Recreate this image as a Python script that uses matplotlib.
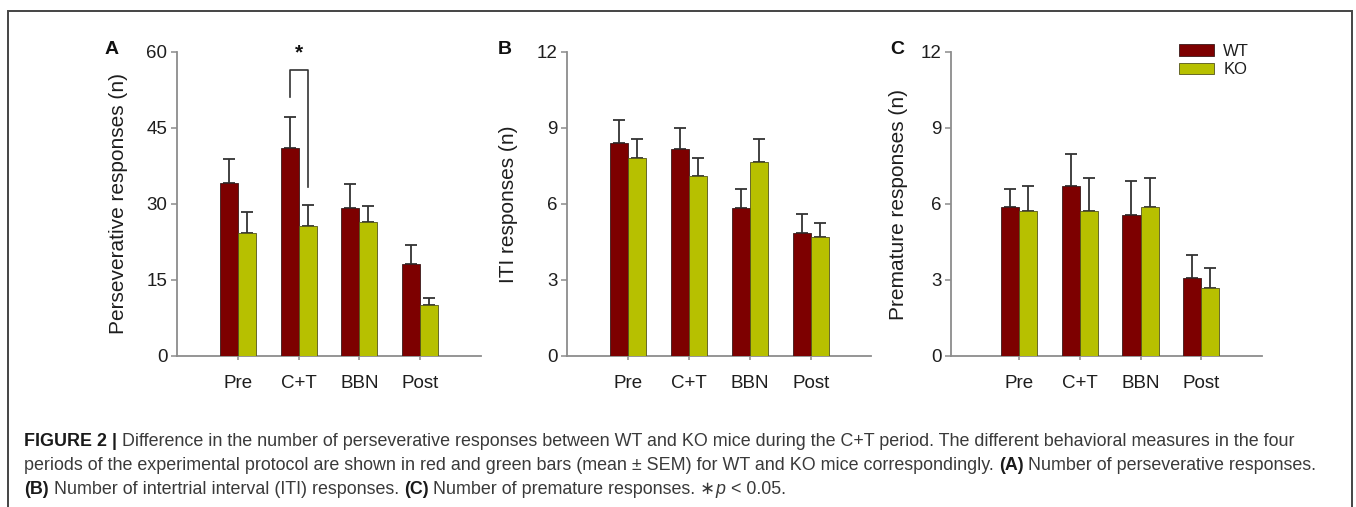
import matplotlib
matplotlib.use("Agg")
import matplotlib.pyplot as plt
from matplotlib.patches import Patch, Rectangle
import numpy as np

plt.rcParams['font.family'] = ['Liberation Sans', 'DejaVu Sans']

categories = ["Pre", "C+T", "BBN", "Post"]
groups = ["WT", "KO"]

# Panel A: perseverative responses
a_wt = [34.1, 41.0, 29.2, 18.1]
a_wt_sem = [4.7, 6.2, 4.7, 3.9]
a_ko = [24.3, 25.7, 26.4, 10.1]
a_ko_sem = [4.2, 4.1, 3.3, 1.4]

# Panel B: ITI responses
b_wt = [8.42, 8.16, 5.86, 4.84]
b_wt_sem = [0.90, 0.83, 0.73, 0.77]
b_ko = [7.83, 7.12, 7.66, 4.68]
b_ko_sem = [0.72, 0.71, 0.91, 0.56]

# Panel C: premature responses
c_wt = [5.87, 6.71, 5.57, 3.09]
c_wt_sem = [0.72, 1.26, 1.34, 0.88]
c_ko = [5.72, 5.72, 5.87, 2.67]
c_ko_sem = [0.98, 1.32, 1.17, 0.82]

panels = [
    ("A", "Perseverative responses (n)", a_wt, a_wt_sem, a_ko, a_ko_sem, [0, 15, 30, 45, 60]),
    ("B", "ITI responses (n)", b_wt, b_wt_sem, b_ko, b_ko_sem, [0, 3, 6, 9, 12]),
    ("C", "Premature responses (n)", c_wt, c_wt_sem, c_ko, c_ko_sem, [0, 3, 6, 9, 12]),
]

W, H = 1356, 507
fig = plt.figure(figsize=(W / 100, H / 100), dpi=100)

def fx(px):
    return px / W

def fy(py):
    return 1 - py / H

ax_px = [(177, 481, (-1.01, 4.01), -0.194, 112),
         (567, 871, (-1.00, 3.98), -0.194, 505),
         (951, 1262, (-1.12, 4.00), -0.170, 897)]
top_px, bot_px = 52, 356

WT_COL = "#7d0000"
KO_COL = "#b7c000"
SPINE = "#8c8c8c"
TXT = "#1e1e1e"
bw = 0.30
x = np.arange(len(categories))

axes = []
for (letter, ylabel, wt, wts, ko, kos, yt), (l, r, xl, labx, letx) in zip(panels, ax_px):
    ax = fig.add_axes([fx(l), fy(bot_px), fx(r) - fx(l), fy(top_px) - fy(bot_px)])
    axes.append(ax)
    ax.bar(x - bw / 2, wt, bw, color=WT_COL, edgecolor="#3a1a1a", linewidth=0.6, zorder=3, label=groups[0])
    ax.bar(x + bw / 2, ko, bw, color=KO_COL, edgecolor="#55551a", linewidth=0.6, zorder=3, label=groups[1])
    ax.errorbar(x - bw / 2, wt, yerr=[np.zeros(4), wts], fmt="none", ecolor="#333333",
                elinewidth=1.3, capsize=4.3, capthick=1.3, zorder=2)
    ax.errorbar(x + bw / 2, ko, yerr=[np.zeros(4), kos], fmt="none", ecolor="#333333",
                elinewidth=1.3, capsize=4.3, capthick=1.3, zorder=2)
    ax.set_xlim(*xl)
    ax.set_ylim(yt[0], yt[-1])
    ax.set_yticks(yt)
    ax.set_yticklabels([str(v) for v in yt])
    ax.set_xticks(x)
    ax.set_xticklabels(categories)
    for s in ("top", "right"):
        ax.spines[s].set_visible(False)
    for s in ("left", "bottom"):
        ax.spines[s].set_color(SPINE)
        ax.spines[s].set_linewidth(1.3)
    ax.tick_params(axis="y", direction="out", length=4, width=1.1, color=SPINE,
                   labelsize=13.5, labelcolor=TXT, pad=3)
    ax.tick_params(axis="x", direction="out", length=3, width=1.1, color=SPINE,
                   labelsize=13.5, labelcolor=TXT, pad=11)
    ax.set_ylabel(ylabel, fontsize=15, color=TXT)
    ax.yaxis.set_label_coords(labx, 0.5)
    ax.yaxis.label.set_verticalalignment("center")
    ax.patch.set_alpha(0)
    fig.text(fx(letx), fy(49), letter, fontsize=14, fontweight="bold", color="#111111",
             ha="center", va="center")

# significance bracket on panel A
axA = axes[0]
axA.plot([0.85, 0.85, 1.15, 1.15], [51.2, 56.4, 56.4, 33.4], color="#333333", lw=1.2,
         clip_on=False, zorder=4)
axA.text(1.0, 59.8, "*", fontsize=15, fontweight="bold", ha="center", va="center",
         color="#111111", clip_on=False)

# legend in panel C
handles = [Patch(facecolor=WT_COL, edgecolor="#3a1a1a", linewidth=0.6),
           Patch(facecolor=KO_COL, edgecolor="#55551a", linewidth=0.6)]
fig.legend(handles, groups, loc="upper left", bbox_to_anchor=(fx(1179), fy(44)),
           frameon=False, fontsize=12, handlelength=2.1, handleheight=0.68,
           handletextpad=0.55, labelspacing=0.2, borderpad=0, borderaxespad=0,
           labelcolor=TXT)

# outer frame (open at bottom)
fig.add_artist(Rectangle((fx(8), fy(540)), fx(1352) - fx(8), fy(11) - fy(540),
                         transform=fig.transFigure, fill=False, edgecolor="#444444",
                         linewidth=1.4, clip_on=False))

# caption
cap_lines = [
    [("FIGURE 2 |", "bold", "normal"),
     (" Difference in the number of perseverative responses between WT and KO mice during the C+T period. The different behavioral measures in the four", "normal", "normal")],
    [("periods of the experimental protocol are shown in red and green bars (mean \u00b1 SEM) for WT and KO mice correspondingly. ", "normal", "normal"),
     ("(A)", "bold", "normal"),
     (" Number of perseverative responses.", "normal", "normal")],
    [("(B)", "bold", "normal"),
     (" Number of intertrial interval (ITI) responses. ", "normal", "normal"),
     ("(C)", "bold", "normal"),
     (" Number of premature responses. \u2217", "normal", "normal"),
     ("p", "normal", "italic"),
     (" < 0.05.", "normal", "normal")],
]
cap_y = [441, 466, 490]
cap_fs = 12.9
renderer = fig.canvas.get_renderer()
for segs, yy in zip(cap_lines, cap_y):
    xpos = 24
    for s, w, st in segs:
        t = fig.text(fx(xpos), fy(yy), s, fontsize=cap_fs, fontweight=w, fontstyle=st,
                     color="#1a1a1a" if w == "bold" else "#3a3a3a", ha="left", va="center")
        bb = t.get_window_extent(renderer)
        xpos += bb.width

fig.savefig("out.png", dpi=100)
